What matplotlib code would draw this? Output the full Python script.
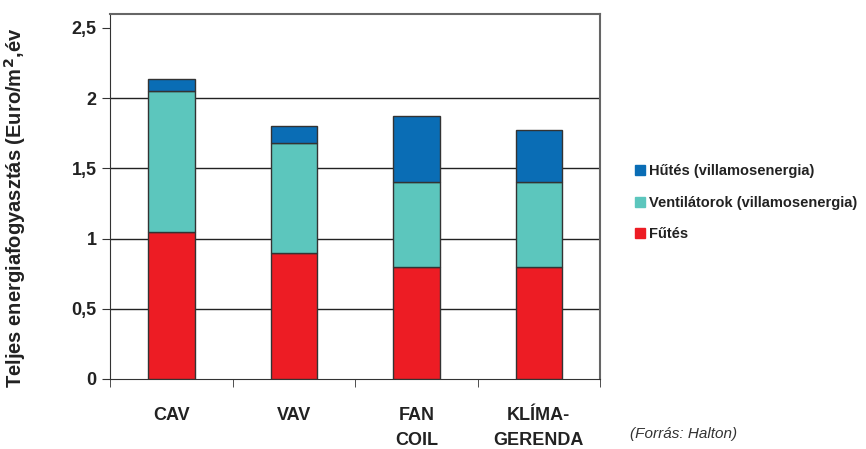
import numpy as np
import matplotlib.pyplot as plt
from matplotlib.patches import Patch

plt.rcParams['font.family'] = ['Liberation Sans', 'DejaVu Sans']

categories = ['CAV', 'VAV', 'FAN\nCOIL', 'KLÍMA-\nGERENDA']
futes = [1.05, 0.90, 0.80, 0.80]
ventilator = [1.00, 0.78, 0.60, 0.60]
hutes = [0.09, 0.12, 0.47, 0.37]

c_red = '#ED1C24'
c_teal = '#5CC6BD'
c_blue = '#0A6DB5'
edge = '#333333'

fig = plt.figure(figsize=(8.66, 4.49), dpi=100)
ax = fig.add_axes([0.127, 0.156, 0.566, 0.813])

x = np.arange(len(categories))
w = 0.38
ax.bar(x, futes, w, color=c_red, edgecolor=edge, linewidth=1, zorder=3)
ax.bar(x, ventilator, w, bottom=futes, color=c_teal, edgecolor=edge, linewidth=1, zorder=3)
bottom2 = np.array(futes) + np.array(ventilator)
ax.bar(x, hutes, w, bottom=bottom2, color=c_blue, edgecolor=edge, linewidth=1, zorder=3)

ax.set_xlim(-0.5, len(categories) - 0.5)
ax.set_ylim(0, 2.6)
ax.set_yticks([0, 0.5, 1, 1.5, 2, 2.5])
ax.set_yticklabels(['0', '0,5', '1', '1,5', '2', '2,5'], fontsize=13, fontweight='bold')
for yv in [0.5, 1, 1.5, 2]:
    ax.axhline(yv, color='#222222', linewidth=1, zorder=1)

ax.set_xticks(x)
ax.set_xticklabels(categories, fontsize=13, fontweight='bold', color='#222222', linespacing=1.6)
ax.tick_params(axis='x', which='major', length=0, pad=20)
ax.set_xticks(np.arange(len(categories) + 1) - 0.5, minor=True)
ax.tick_params(axis='x', which='minor', length=6, color='#333333')
ax.tick_params(axis='y', length=6, color='#333333', labelcolor='#222222')

for s in ['top', 'right']:
    ax.spines[s].set_color('#666666')
    ax.spines[s].set_linewidth(1.5)
ax.spines['left'].set_color('#333333')
ax.spines['bottom'].set_color('#333333')

ax.set_ylabel('Teljes energiafogyasztás (Euro/m$^\\mathbf{2}$,év', fontsize=14.5, fontweight='bold',
              color='#222222')
ax.yaxis.set_label_coords(-0.168, 0.47)

handles = [Patch(color=c_blue, label='Hűtés (villamosenergia)'),
           Patch(color=c_teal, label='Ventilátorok (villamosenergia)'),
           Patch(color=c_red, label='Fűtés')]
fig.legend(handles=handles, loc='center left', bbox_to_anchor=(0.718, 0.548), frameon=False,
           prop={'size': 10.5, 'weight': 'bold'}, handlelength=0.7, handleheight=0.7,
           handletextpad=0.3, labelspacing=1.2, labelcolor='#222222')

fig.text(0.727, 0.025, '(Forrás: Halton)', fontsize=11, style='italic', color='#333333')

fig.savefig('out.png', dpi=100)
